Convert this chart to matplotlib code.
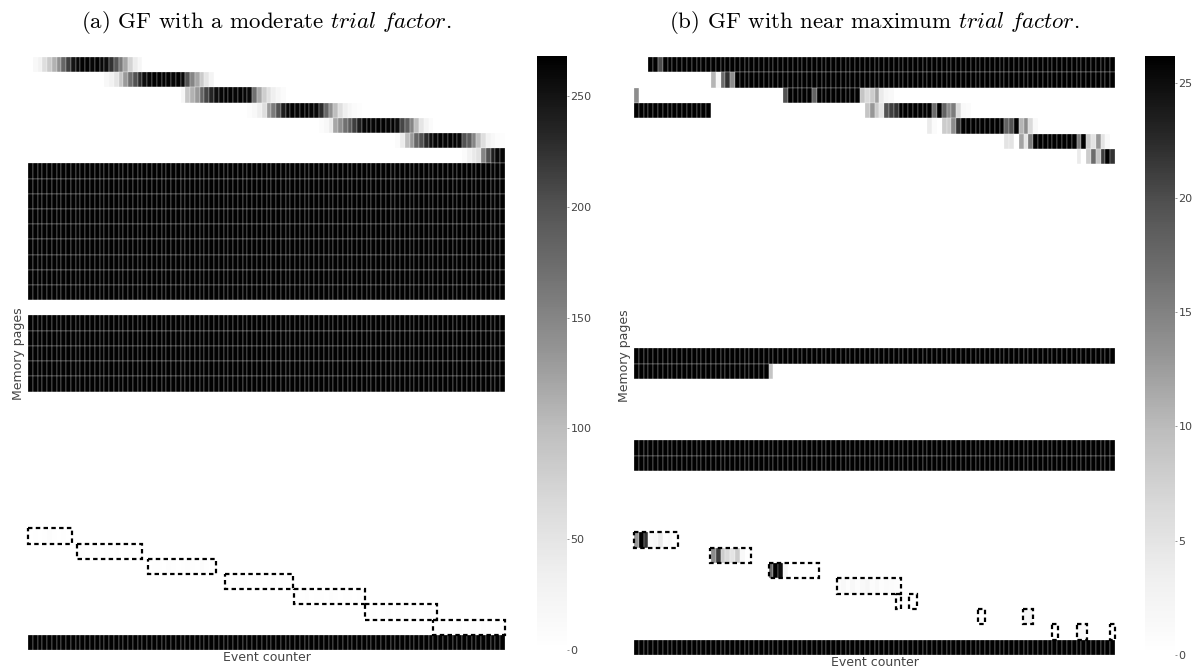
import numpy as np
import matplotlib
matplotlib.use("Agg")
import matplotlib.pyplot as plt
from matplotlib.patches import Rectangle

plt.rcParams["mathtext.fontset"] = "cm"

N_PAGES = 39     # memory pages, row 0 at the top
N_EVENTS = 100   # event counter columns

# ---------------- (a) moderate trial factor ----------------
A_VMAX = 268
A_TICKS = [0, 50, 100, 150, 200, 250]
A_FULL_ROWS = [7, 8, 9, 10, 11, 12, 13, 14, 15, 17, 18, 19, 20, 21, 38]
A_FULL_LEVEL = 265
# (row, first column, counts for consecutive columns)
A_CELLS = [
    (0, 1, [15, 30, 60, 85, 110, 140, 180, 215, 250, 262, 265, 265, 262, 265, 260, 255,
            225, 195, 160, 120, 75, 40, 20]),
    (1, 16, [15, 30, 50, 90, 130, 170, 200, 230, 255, 262, 265, 265, 265, 265, 262, 265,
             260, 200, 150, 120, 85, 50, 25]),
    (2, 32, [20, 90, 110, 130, 180, 210, 235, 255, 262, 265, 265, 262, 265, 262, 258,
             170, 120, 80, 55, 35, 20, 10]),
    (3, 46, [8, 15, 35, 60, 130, 160, 200, 240, 262, 265, 262, 265, 265, 262, 258,
             230, 180, 140, 100, 60, 35, 20, 10, 5]),
    (4, 61, [8, 15, 40, 120, 140, 170, 190, 215, 240, 262, 265, 262, 265, 265, 262, 265, 255,
             210, 190, 150, 100, 50, 25, 10]),
    (5, 77, [10, 40, 100, 130, 180, 200, 230, 255, 262, 265, 262, 265, 265, 260, 200,
             190, 150, 100, 60, 30, 15, 8, 5]),
    (6, 91, [10, 30, 45, 55, 150, 200, 240, 260, 262]),
    (31, 0, [2, 3, 2, 4, 8, 3, 2, 3, 2]),
    (32, 10, [3, 5, 2, 3, 6, 2, 4, 3, 5, 2, 3, 4, 2, 3]),
    (33, 25, [2, 4, 3, 2, 5, 3, 2, 4, 6, 3, 2, 7, 3, 2]),
    (34, 41, [3, 2, 4, 3, 5, 2, 3, 4, 2, 3, 5, 2, 3, 2]),
    (35, 56, [2, 3, 5, 2, 4, 3, 2, 6, 3, 2, 4, 3, 2, 3]),
    (36, 71, [3, 4, 2, 3, 5, 2, 3, 4, 2, 5, 3, 2, 4, 3]),
    (37, 85, [2, 3, 4, 2, 3, 5, 2, 4, 3, 2, 6, 3, 2, 3, 2]),
]
# dashed highlight boxes: (row, left edge, right edge) in event units
A_BOXES = [(31, 0.0, 9.2), (32, 10.2, 24.0), (33, 25.1, 39.4), (34, 41.3, 55.5),
           (35, 55.8, 70.7), (36, 70.7, 85.8), (37, 85.0, 99.9)]

# ---------------- (b) near maximum trial factor ----------------
B_VMAX = 26.2
B_TICKS = [0, 5, 10, 15, 20, 25]
B_FULL_ROWS = [19, 25, 26, 38]
B_FULL_LEVEL = 26
# constant runs: (row, first column, last column, count)
B_RUNS = [
    (0, 3, 99, 26), (1, 21, 99, 26), (2, 32, 36, 26), (2, 38, 46, 26),
    (3, 0, 15, 26), (3, 55, 61, 26), (4, 68, 76, 26), (5, 83, 91, 26),
    (20, 0, 27, 26),
]
B_CELLS = [
    (0, 5, [20]),
    (1, 16, [10.5, 2, 17, 22, 14]),
    (2, 0, [14]),
    (2, 31, [19.5]),
    (2, 37, [18]),
    (2, 47, [9, 6.5, 8, 12, 4, 2, 1.3]),
    (3, 48, [9, 13, 8, 5, 19.5, 21, 22]),
    (3, 62, [17, 26, 18, 14, 15.5, 6.5, 1.3, 1]),
    (4, 61, [4, 1, 0, 8, 8, 14, 22]),
    (4, 77, [18, 19.5, 26, 10.5, 14, 6.5, 1.3]),
    (5, 77, [5, 5, 0, 12, 5, 15.5]),
    (5, 92, [15.5, 26, 8, 5, 13, 5, 1.3]),
    (6, 92, [4, 0, 8, 17, 9, 21, 26, 22]),
    (20, 28, [9]),
    (31, 0, [13, 26, 22, 1.3, 2, 4, 0.8, 1.3, 0.5]),
    (32, 16, [14, 21, 8, 6.5, 5, 8, 1.3]),
    (33, 28, [17, 26, 25, 2]),
    (34, 42, [0.8, 1.3, 0.5, 1.5, 0.8, 1.3, 2, 0.8, 1.3, 0.5, 1, 0.8, 0.5]),
    (36, 81, [2.5, 2.5]),
    (37, 92, [1.3, 1.3]),
]
B_BOXES = [(31, 0.0, 9.2), (32, 15.9, 24.3), (33, 28.1, 38.5), (34, 42.3, 55.5),
           (35, 54.4, 55.6), (35, 57.2, 58.8), (36, 71.6, 73.0), (36, 80.8, 83.0),
           (37, 86.8, 88.1), (37, 92.0, 94.1), (37, 99.0, 100.0)]


def build(full_rows, full_level, runs, cells):
    m = np.zeros((N_PAGES, N_EVENTS))
    for r in full_rows:
        m[r, :] = full_level
    for r, c0, c1, v in runs:
        m[r, c0:c1 + 1] = v
    for r, c0, vals in cells:
        m[r, c0:c0 + len(vals)] = vals
    return m


def draw_panel(fig, ax, cax, m, vmax, ticks, boxes, title):
    mesh = ax.pcolormesh(m, cmap="Greys", vmin=0, vmax=vmax,
                         edgecolors=(1, 1, 1, 0.6), linewidth=0.3, antialiased=True)
    ax.set_xlim(0, N_EVENTS)
    ax.set_ylim(N_PAGES, 0)
    ax.set_xticks([])
    ax.set_yticks([])
    for s in ax.spines.values():
        s.set_visible(False)
    for r, x0, x1 in boxes:
        ax.add_patch(Rectangle((x0, r), x1 - x0, 1, fill=False, ec="black", lw=1.6,
                               ls=(0, (2, 1.5)), zorder=3, clip_on=False))
    ax.set_xlabel("Event counter", fontsize=9, color="#444444", labelpad=1)
    ax.set_ylabel("Memory pages", fontsize=9, color="#444444", labelpad=2)

    # title centred over the heatmap, near the top of the figure
    box = ax.get_position()
    fig.text(box.x0 + box.width / 2, 1 - 23 / 667, title,
             ha="center", va="center", fontsize=16.5, family="cmr10")

    cb = fig.colorbar(mesh, cax=cax, ticks=ticks)
    cb.outline.set_visible(False)
    cax.tick_params(labelsize=8, colors="#444444", length=1.5, width=0.4, pad=1)


fig = plt.figure(figsize=(12, 6.67), dpi=100)
H = 667.0

ax_a = fig.add_axes([28 / 1200, 1 - 650 / H, 477 / 1200, 593 / H])
cax_a = fig.add_axes([537 / 1200, 1 - 650 / H, 30 / 1200, 594 / H])
ax_b = fig.add_axes([634 / 1200, 1 - 655 / H, 481 / 1200, 598 / H])
cax_b = fig.add_axes([1145 / 1200, 1 - 655 / H, 30 / 1200, 599 / H])

mat_a = build(A_FULL_ROWS, A_FULL_LEVEL, [], A_CELLS)
mat_b = build(B_FULL_ROWS, B_FULL_LEVEL, B_RUNS, B_CELLS)

draw_panel(fig, ax_a, cax_a, mat_a, A_VMAX, A_TICKS, A_BOXES,
           r"(a) GF with a moderate $\mathit{trial\ factor}$.")
draw_panel(fig, ax_b, cax_b, mat_b, B_VMAX, B_TICKS, B_BOXES,
           r"(b) GF with near maximum $\mathit{trial\ factor}$.")

fig.savefig("out.png", dpi=100)
